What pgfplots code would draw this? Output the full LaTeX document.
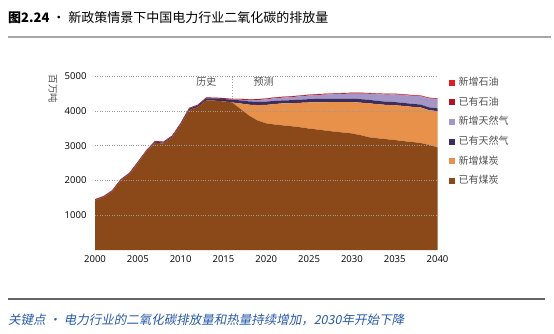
\documentclass[border=0pt]{standalone}
\usepackage{fontspec}
\setmainfont{Noto Sans CJK SC}
\newfontfamily\tickfont{Open Sans}
\newfontfamily\capfont[FakeSlant=0.2]{Noto Sans CJK SC}
\usepackage{pgfplots}
\usepackage{pgfplotstable}
\pgfplotsset{compat=1.18}
\definecolor{coalex}{RGB}{139,72,24}
\definecolor{coalnew}{RGB}{232,145,75}
\definecolor{gasex}{RGB}{60,45,95}
\definecolor{gasnew}{RGB}{165,150,200}
\definecolor{oilex}{RGB}{175,20,35}
\definecolor{oilnew}{RGB}{225,30,30}
\definecolor{capblue}{RGB}{40,90,170}
\definecolor{txtgray}{RGB}{80,80,80}

\pgfplotstableread{
year coalex coalnew gasex gasnew oilex oilnew
2000 1420 0 15 0 25 0
2001 1510 0 15 0 25 0
2002 1675 0 15 0 25 0
2003 1990 0 18 0 25 0
2004 2170 0 20 0 25 0
2005 2490 0 22 0 25 0
2006 2820 0 25 0 25 0
2007 3080 0 28 0 25 0
2008 3060 0 30 0 25 0
2009 3230 0 32 0 25 0
2010 3590 0 35 0 25 0
2011 4020 0 40 0 25 0
2012 4100 0 50 0 25 0
2013 4300 0 60 0 25 0
2014 4290 0 65 0 25 0
2015 4270 0 70 0 25 0
2016 4240 0 75 5 25 0
2017 4050 160 90 20 25 1
2018 3860 315 95 35 24 2
2019 3720 445 97 48 24 3
2020 3640 530 95 65 23 4
2021 3605 590 90 75 23 4
2022 3580 635 85 80 22 5
2023 3555 660 90 90 22 5
2024 3525 705 92 95 21 5
2025 3490 750 95 105 20 6
2026 3460 785 97 115 20 6
2027 3430 815 100 122 19 7
2028 3400 850 100 130 19 7
2029 3375 875 100 138 18 8
2030 3350 900 100 145 18 8
2031 3300 935 100 160 17 9
2032 3240 975 100 175 17 9
2033 3210 980 95 190 16 10
2034 3185 985 92 205 16 10
2035 3160 1000 90 220 15 10
2036 3130 1010 88 225 15 11
2037 3105 1010 85 232 14 11
2038 3075 1025 80 240 14 11
2039 3020 1000 80 255 13 12
2040 2950 1040 80 265 13 12
}\emissions

\begin{document}
\begin{tikzpicture}
\useasboundingbox (0,0) rectangle (554pt,333pt);
% title
\node[anchor=base west, inner sep=0pt, font=\fontsize{13}{15}\selectfont] at (8pt,310pt) {\textbf{图2.24} · 新政策情景下中国电力行业二氧化碳的排放量};
\draw[gray!70, line width=1.3pt] (8pt,296pt) -- (551pt,296pt);
\draw[gray!80!black, line width=1.3pt] (8pt,34pt) -- (545pt,34pt);
\node[anchor=base west, inner sep=0pt, text=capblue, font=\capfont\fontsize{12.5}{14}\selectfont] at (8pt,9pt) {关键点 · 电力行业的二氧化碳排放量和热量持续增加，2030年开始下降};

\begin{axis}[
  at={(95pt,83pt)}, anchor=south west,
  scale only axis, width=342.5pt, height=174pt,
  xmin=2000, xmax=2040, ymin=0, ymax=5000,
  xtick={2000,2005,...,2040}, ytick={1000,2000,3000,4000,5000},
  major tick length=0pt,
  axis line style={draw=none},
  ymajorgrids, grid style={dotted, gray!80, line width=0.6pt},
  /pgf/number format/assume math mode=true,
  /pgf/number format/1000 sep={},
  ticklabel style={font=\tickfont\fontsize{9.5}{11}\selectfont, text=black},
  yticklabel style={xshift=-5pt},
  xticklabel style={yshift=-2pt},
  stack plots=y,
  area style,
  reverse legend,
  legend cell align=left,
  legend image code/.code={\fill[#1] (0pt,-3pt) rectangle (6pt,3pt);},
  legend style={at={(1,1)}, anchor=north west, xshift=11pt, yshift=-1pt,
    draw=none, fill=none, inner sep=0pt, row sep=8.6pt, column sep=3pt,
    font=\fontsize{10}{11}\selectfont, text=txtgray,
    nodes={inner sep=1pt, text height=7.5pt, text depth=1.5pt}},
]
\addplot[draw=none, fill=coalex] table[x=year, y=coalex] {\emissions} \closedcycle;
\addlegendentry{已有煤炭}
\addplot[draw=none, fill=coalnew] table[x=year, y=coalnew] {\emissions} \closedcycle;
\addlegendentry{新增煤炭}
\addplot[draw=none, fill=gasex] table[x=year, y=gasex] {\emissions} \closedcycle;
\addlegendentry{已有天然气}
\addplot[draw=none, fill=gasnew] table[x=year, y=gasnew] {\emissions} \closedcycle;
\addlegendentry{新增天然气}
\addplot[draw=none, fill=oilex] table[x=year, y=oilex] {\emissions} \closedcycle;
\addlegendentry{已有石油}
\addplot[draw=none, fill=oilnew] table[x=year, y=oilnew] {\emissions} \closedcycle;
\addlegendentry{新增石油}
\draw[gray!70, dotted, line width=0.7pt] (axis cs:2016,4340) -- (axis cs:2016,5000);
\draw[white, dotted, line width=0.7pt] (axis cs:2016,0) -- (axis cs:2016,4340);
\node[text=txtgray, font=\fontsize{10}{11}\selectfont, inner sep=0pt] at (axis cs:2013.0,4830) {历史};
\node[text=txtgray, font=\fontsize{10}{11}\selectfont, inner sep=0pt] at (axis cs:2019.7,4830) {预测};
\end{axis}
\node[rotate=-90, text=txtgray, font=\fontsize{9.5}{11}\selectfont, inner sep=0pt] at (53pt,244pt) {百万吨};
\end{tikzpicture}
\end{document}
